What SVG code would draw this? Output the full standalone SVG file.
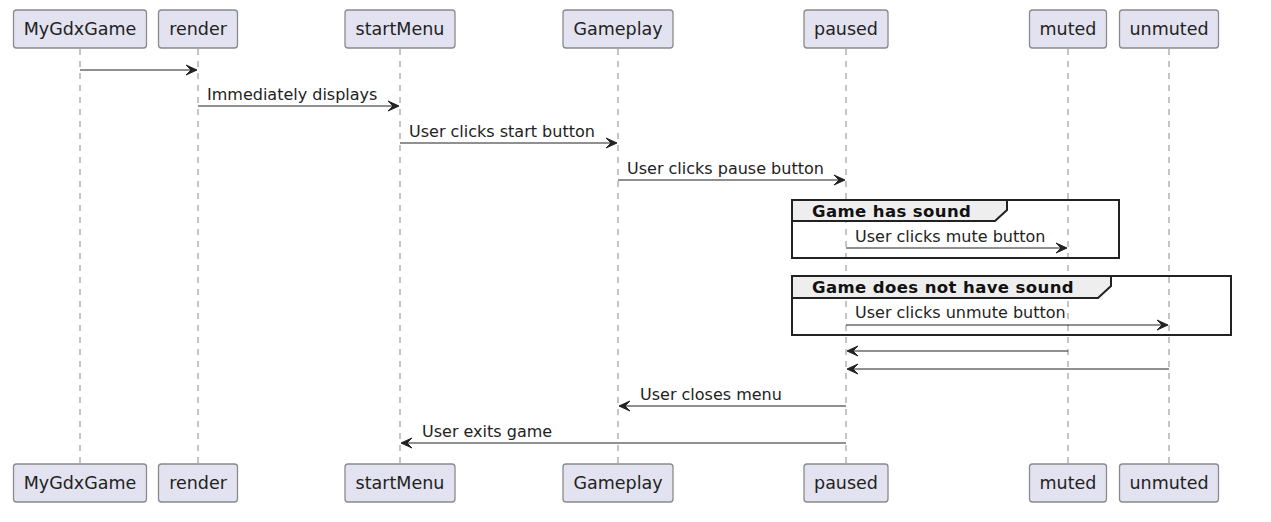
<svg xmlns="http://www.w3.org/2000/svg" width="1271" height="522" viewBox="0 0 1271 522">
<style>
.bg{fill:#ffffff}
.life{stroke:#8a8a8a;stroke-width:1;stroke-dasharray:6,6;fill:none}
.pbox{fill:#E2E2F0;stroke:#8a8a8a;stroke-width:1.3}
.ptxt{font-family:"DejaVu Sans",sans-serif;font-size:17.5px;fill:#222222;text-anchor:middle}
.msg{stroke:#222222;stroke-width:1.2;fill:none}
.head{fill:#222222;stroke:#222222;stroke-width:1}
.mtxt{font-family:"DejaVu Sans",sans-serif;font-size:16px;fill:#222222}
.frame{fill:none;stroke:#222222;stroke-width:2}
.tab{fill:#EEEEEE;stroke:#222222;stroke-width:2}
.gtxt{font-family:"DejaVu Sans",sans-serif;font-size:16.5px;font-weight:bold;fill:#111111;letter-spacing:0.4px}
</style>
<rect class="bg" x="0" y="0" width="1271" height="522"/>
<g id="lifelines">
<line class="life" x1="80" y1="49" x2="80" y2="464"/>
<line class="life" x1="198" y1="49" x2="198" y2="464"/>
<line class="life" x1="400" y1="49" x2="400" y2="464"/>
<line class="life" x1="618" y1="49" x2="618" y2="464"/>
<line class="life" x1="846" y1="49" x2="846" y2="464"/>
<line class="life" x1="1068" y1="49" x2="1068" y2="464"/>
<line class="life" x1="1169" y1="49" x2="1169" y2="464"/>
</g>
<g id="group-sound">
<rect class="frame" x="792" y="200" width="327" height="58"/>
<path class="tab" d="M792,200 L1007,200 L1007,210 L995,221 L792,221 Z"/>
<text class="gtxt" x="812" y="217">Game has sound</text>
</g>
<g id="group-nosound">
<rect class="frame" x="792" y="276" width="439" height="59"/>
<path class="tab" d="M792,276 L1111,276 L1111,286 L1098,298 L792,298 Z"/>
<text class="gtxt" x="812" y="293">Game does not have sound</text>
</g>
<g id="MyGdxGame">
<rect class="pbox" x="13.5" y="10" width="133" height="38" rx="3"/>
<text class="ptxt" x="80" y="35">MyGdxGame</text>
<rect class="pbox" x="13.5" y="464" width="133" height="38" rx="3"/>
<text class="ptxt" x="80" y="489">MyGdxGame</text>
</g>
<g id="render">
<rect class="pbox" x="158.5" y="10" width="79" height="38" rx="3"/>
<text class="ptxt" x="198" y="35">render</text>
<rect class="pbox" x="158.5" y="464" width="79" height="38" rx="3"/>
<text class="ptxt" x="198" y="489">render</text>
</g>
<g id="startMenu">
<rect class="pbox" x="345" y="10" width="110" height="38" rx="3"/>
<text class="ptxt" x="400" y="35">startMenu</text>
<rect class="pbox" x="345" y="464" width="110" height="38" rx="3"/>
<text class="ptxt" x="400" y="489">startMenu</text>
</g>
<g id="Gameplay">
<rect class="pbox" x="563" y="10" width="110" height="38" rx="3"/>
<text class="ptxt" x="618" y="35">Gameplay</text>
<rect class="pbox" x="563" y="464" width="110" height="38" rx="3"/>
<text class="ptxt" x="618" y="489">Gameplay</text>
</g>
<g id="paused">
<rect class="pbox" x="804" y="10" width="84" height="38" rx="3"/>
<text class="ptxt" x="846" y="35">paused</text>
<rect class="pbox" x="804" y="464" width="84" height="38" rx="3"/>
<text class="ptxt" x="846" y="489">paused</text>
</g>
<g id="muted">
<rect class="pbox" x="1029.5" y="10" width="77" height="38" rx="3"/>
<text class="ptxt" x="1068" y="35">muted</text>
<rect class="pbox" x="1029.5" y="464" width="77" height="38" rx="3"/>
<text class="ptxt" x="1068" y="489">muted</text>
</g>
<g id="unmuted">
<rect class="pbox" x="1119.5" y="10" width="99" height="38" rx="3"/>
<text class="ptxt" x="1169" y="35">unmuted</text>
<rect class="pbox" x="1119.5" y="464" width="99" height="38" rx="3"/>
<text class="ptxt" x="1169" y="489">unmuted</text>
</g>
<g id="connectors">
<line class="msg" x1="80" y1="70" x2="196" y2="70"/>
<polygon class="head" points="186,65 197,70 186,75 191,70"/>

<line class="msg" x1="198" y1="106" x2="398" y2="106"/>
<polygon class="head" points="388,101 399,106 388,111 393,106"/>
<text class="mtxt" x="207" y="100">Immediately displays</text>

<line class="msg" x1="400" y1="143" x2="616" y2="143"/>
<polygon class="head" points="606,138 617,143 606,148 611,143"/>
<text class="mtxt" x="409" y="137">User clicks start button</text>

<line class="msg" x1="618" y1="180" x2="844" y2="180"/>
<polygon class="head" points="834,175 845,180 834,185 839,180"/>
<text class="mtxt" x="627" y="174">User clicks pause button</text>

<line class="msg" x1="846" y1="248" x2="1066" y2="248"/>
<polygon class="head" points="1056,243 1067,248 1056,253 1061,248"/>
<text class="mtxt" x="855" y="242">User clicks mute button</text>

<line class="msg" x1="846" y1="325" x2="1167" y2="325"/>
<polygon class="head" points="1157,320 1168,325 1157,330 1162,325"/>
<text class="mtxt" x="855" y="318">User clicks unmute button</text>

<line class="msg" x1="1068" y1="351" x2="848" y2="351"/>
<polygon class="head" points="858,346 847,351 858,356 853,351"/>

<line class="msg" x1="1169" y1="369" x2="848" y2="369"/>
<polygon class="head" points="858,364 847,369 858,374 853,369"/>

<line class="msg" x1="846" y1="406" x2="620" y2="406"/>
<polygon class="head" points="630,401 619,406 630,411 625,406"/>
<text class="mtxt" x="640" y="400">User closes menu</text>

<line class="msg" x1="846" y1="443" x2="402" y2="443"/>
<polygon class="head" points="412,438 401,443 412,448 407,443"/>
<text class="mtxt" x="422" y="437">User exits game</text>
</g>
</svg>
